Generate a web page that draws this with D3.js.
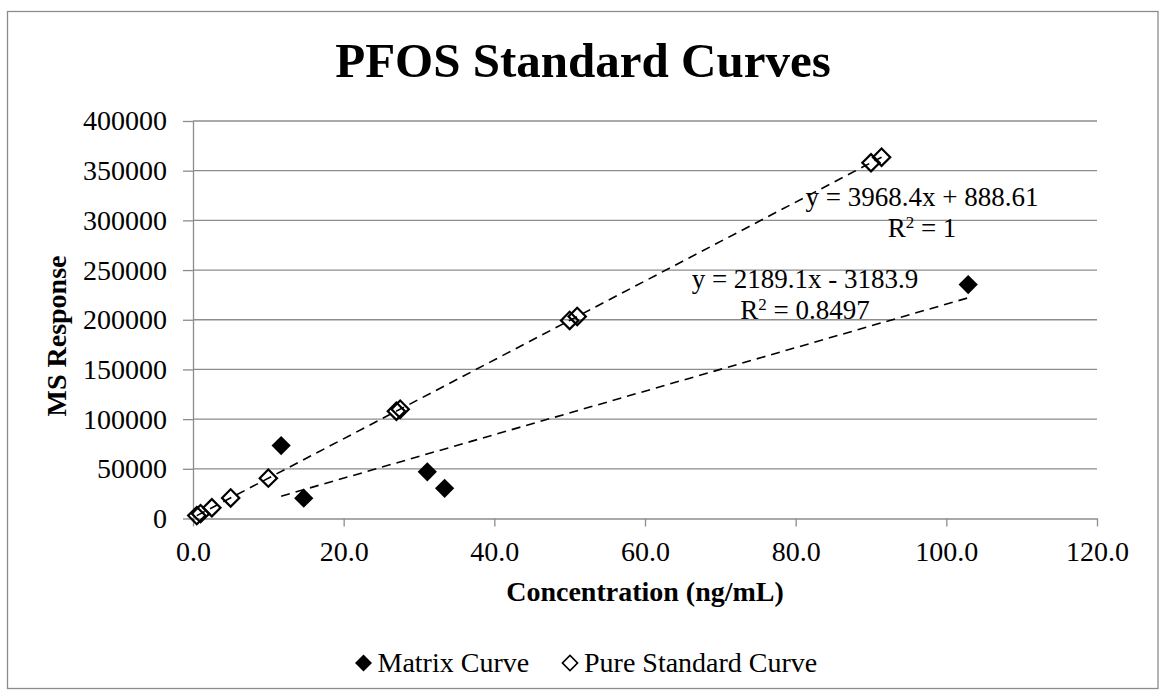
<!DOCTYPE html>
<html>
<head>
<meta charset="utf-8">
<script src="https://cdn.jsdelivr.net/npm/d3@7"></script>
<style>
  body { margin: 0; background: #fff; }
  text { font-family: "Liberation Serif", "DejaVu Serif", serif; fill: #000; }
</style>
</head>
<body>
<svg id="chart" width="1159" height="696"></svg>
<script>
// Data
const matrixX = [11.7, 14.7, 31.1, 33.4, 102.9];
const matrixY = [73400, 20400, 47000, 30400, 235400];

const pureX = [0.5, 1.0, 2.5, 5.0, 10.0, 27.0, 27.5, 50.0, 51.0, 90.0, 91.4];
const pureY = [2900, 4900, 10800, 20700, 40600, 108000, 110000, 199300, 203300, 358000, 363600];

// trendline coefficients as printed on the chart [slope, intercept]
const matrixFit = [2189.1, -3183.9];
const pureFit = [3968.4, 888.61];
const fitLabels = ["y = 2189.1x - 3183.9", "y = 3968.4x + 888.61"];
const r2Values = ["0.8497", "1"];

const xTicks = [0, 20, 40, 60, 80, 100, 120];
const yTicks = [0, 50000, 100000, 150000, 200000, 250000, 300000, 350000, 400000];
const seriesNames = ["Matrix Curve", "Pure Standard Curve"];

// Layout
const W = 1159, H = 696;
const plot = { left: 193, right: 1097, top: 121, bottom: 518.5 };
const gridColor = "#8c8c8c";
const fontSize = "28px";

const svg = d3.select("#chart");

svg.append("rect")
    .attr("width", W).attr("height", H)
    .attr("fill", "#fff");

// outer chart border
svg.append("rect")
    .attr("x", 7.5).attr("y", 11.5)
    .attr("width", 1150.5).attr("height", 677)
    .attr("fill", "none")
    .attr("stroke", gridColor)
    .attr("stroke-width", 1.3);

// Scales
const x = d3.scaleLinear().domain([0, 120]).range([plot.left, plot.right]);
const y = d3.scaleLinear().domain([0, 400000]).range([plot.bottom, plot.top]);

// Gridlines (horizontal only)
svg.append("g")
    .attr("class", "grid")
    .selectAll("line")
    .data(yTicks.filter(d => d > 0))
    .enter().append("line")
    .attr("x1", plot.left).attr("x2", plot.right)
    .attr("y1", d => y(d)).attr("y2", d => y(d))
    .attr("stroke", gridColor)
    .attr("stroke-width", 1.3);

// Axes
const xAxis = d3.axisBottom(x)
    .tickValues(xTicks)
    .tickFormat(d3.format(".1f"))
    .tickSize(8)
    .tickSizeOuter(0)
    .tickPadding(15);

const yAxis = d3.axisLeft(y)
    .tickValues(yTicks)
    .tickFormat(d3.format("d"))
    .tickSize(10)
    .tickSizeOuter(0)
    .tickPadding(16);

const xAxisGroup = svg.append("g")
    .attr("transform", `translate(0, ${plot.bottom})`)
    .call(xAxis);

const yAxisGroup = svg.append("g")
    .attr("transform", `translate(${plot.left}, 0)`)
    .call(yAxis);

[xAxisGroup, yAxisGroup].forEach(g => {
    g.select(".domain").attr("stroke", gridColor).attr("stroke-width", 1.3);
    g.selectAll(".tick line").attr("stroke", gridColor).attr("stroke-width", 1.3);
    g.selectAll(".tick text")
        .attr("fill", "#000")
        .style("font-family", "'Liberation Serif', serif")
        .style("font-size", fontSize);
});

// Title and axis titles
svg.append("text")
    .attr("x", 583).attr("y", 77)
    .attr("text-anchor", "middle")
    .style("font-size", "49px")
    .style("font-weight", "bold")
    .text("PFOS Standard Curves");

svg.append("text")
    .attr("x", (plot.left + plot.right) / 2).attr("y", 601)
    .attr("text-anchor", "middle")
    .style("font-size", fontSize)
    .style("font-weight", "bold")
    .text("Concentration (ng/mL)");

svg.append("text")
    .attr("transform", "translate(66, 336) rotate(-90)")
    .attr("text-anchor", "middle")
    .style("font-size", fontSize)
    .style("font-weight", "bold")
    .text("MS Response");

// Trendlines over each series' x range
const line = d3.line().x(d => x(d[0])).y(d => y(d[1]));
const fitLine = (xs, fit) => d3.extent(xs).map(v => [v, fit[0] * v + fit[1]]);

[[matrixX, matrixFit], [pureX, pureFit]].forEach(([xs, fit]) => {
    svg.append("path")
        .attr("d", line(fitLine(xs, fit)))
        .attr("fill", "none")
        .attr("stroke", "#000")
        .attr("stroke-width", 1.6)
        .attr("stroke-dasharray", "9,6");
});

// Markers: square rotated 45deg
const diamond = size => d3.symbol(d3.symbolSquare, size)();

svg.append("g")
    .selectAll("path")
    .data(d3.zip(matrixX, matrixY))
    .enter().append("path")
    .attr("d", diamond(185))
    .attr("transform", d => `translate(${x(d[0])}, ${y(d[1])}) rotate(45)`)
    .attr("fill", "#000");

svg.append("g")
    .selectAll("path")
    .data(d3.zip(pureX, pureY))
    .enter().append("path")
    .attr("d", diamond(150))
    .attr("transform", d => `translate(${x(d[0])}, ${y(d[1])}) rotate(45)`)
    .attr("fill", "none")
    .attr("stroke", "#000")
    .attr("stroke-width", 2.2);

// Trendline equations
const eqPos = [[805, 288], [922, 206]];
eqPos.forEach((p, i) => {
    svg.append("text")
        .attr("x", p[0]).attr("y", p[1])
        .attr("text-anchor", "middle")
        .style("font-size", "27px")
        .text(fitLabels[i]);
    const r2 = svg.append("text")
        .attr("x", p[0]).attr("y", p[1] + 31)
        .attr("text-anchor", "middle")
        .style("font-size", "27px");
    r2.append("tspan").text("R");
    r2.append("tspan").attr("dy", -9).style("font-size", "17px").text("2");
    r2.append("tspan").attr("dy", 9).text(" = " + r2Values[i]);
});

// Legend
const legendItems = [
    { name: seriesNames[0], cx: 363.5, filled: true },
    { name: seriesNames[1], cx: 570, filled: false }
];

const legend = svg.append("g").attr("class", "legend");
legendItems.forEach(d => {
    legend.append("path")
        .attr("d", diamond(d.filled ? 145 : 115))
        .attr("transform", `translate(${d.cx}, 663) rotate(45)`)
        .attr("fill", d.filled ? "#000" : "#fff")
        .attr("stroke", d.filled ? "none" : "#000")
        .attr("stroke-width", 1.6);
    legend.append("text")
        .attr("x", d.cx + 14).attr("y", 672)
        .style("font-size", fontSize)
        .text(d.name);
});
</script>
</body>
</html>
